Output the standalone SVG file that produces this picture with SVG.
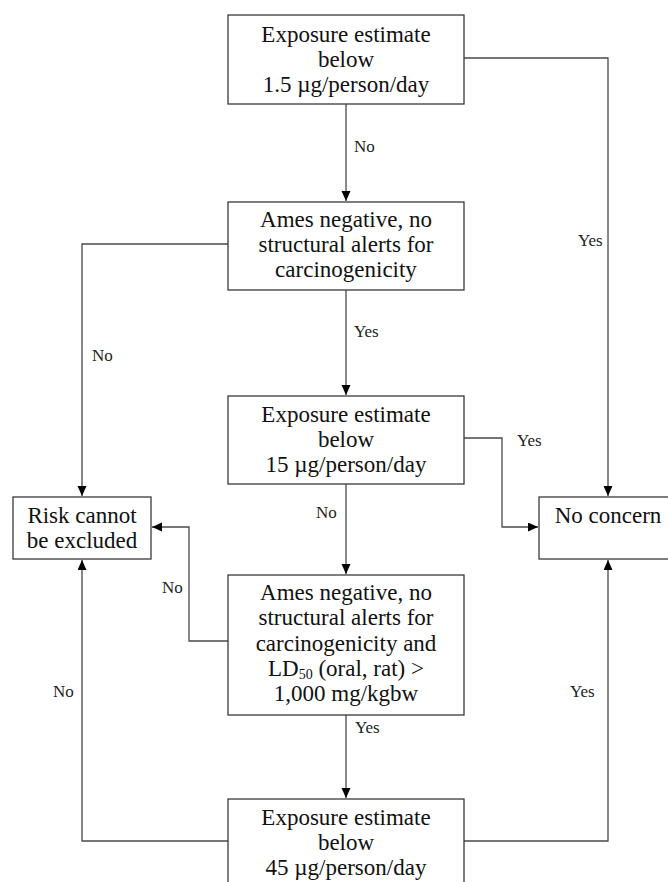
<svg xmlns="http://www.w3.org/2000/svg" width="668" height="882" viewBox="0 0 668 882">
  <style>
    .box { fill: #ffffff; stroke: #3a3a3a; stroke-width: 1.3; }
    .t { font-family: "Liberation Serif", "Times New Roman", serif; font-size: 23px; fill: #111; text-anchor: middle; }
    .lbl { font-family: "Liberation Serif", "Times New Roman", serif; font-size: 17px; fill: #222; }
    .c { fill: none; stroke: #4a4a4a; stroke-width: 1.3; }
  </style>
  <defs>
    <marker id="arr" markerUnits="userSpaceOnUse" markerWidth="11" markerHeight="10" refX="10" refY="4.5" orient="auto">
      <path d="M0,0 L10,4.5 L0,9 z" fill="#000"/>
    </marker>
  </defs>
  <rect width="668" height="882" fill="#ffffff"/>

  <g id="connectors">
    <path class="c" d="M346,104 V201" marker-end="url(#arr)"/>
    <path class="c" d="M464,58 H608 V496" marker-end="url(#arr)"/>
    <path class="c" d="M346,290 V395" marker-end="url(#arr)"/>
    <path class="c" d="M228,244 H82 V496" marker-end="url(#arr)"/>
    <path class="c" d="M464,438 H502 V527 H538" marker-end="url(#arr)"/>
    <path class="c" d="M346,484 V574" marker-end="url(#arr)"/>
    <path class="c" d="M228,641 H189 V527 H152" marker-end="url(#arr)"/>
    <path class="c" d="M346,715 V798" marker-end="url(#arr)"/>
    <path class="c" d="M228,841 H82 V560" marker-end="url(#arr)"/>
    <path class="c" d="M464,841 H608 V560" marker-end="url(#arr)"/>
    <text class="lbl" x="354" y="152">No</text>
    <text class="lbl" x="578" y="246">Yes</text>
    <text class="lbl" x="354" y="337">Yes</text>
    <text class="lbl" x="92" y="361">No</text>
    <text class="lbl" x="517" y="446">Yes</text>
    <text class="lbl" x="316" y="518">No</text>
    <text class="lbl" x="162" y="593">No</text>
    <text class="lbl" x="355" y="733">Yes</text>
    <text class="lbl" x="53" y="697">No</text>
    <text class="lbl" x="570" y="697">Yes</text>
  </g>

  <g id="node-exposure-1-5">
    <rect class="box" x="228" y="15" width="236" height="89"/>
    <text class="t" x="346" y="42">Exposure estimate</text>
    <text class="t" x="346" y="67">below</text>
    <text class="t" x="346" y="92">1.5 µg/person/day</text>
  </g>

  <g id="node-ames-1">
    <rect class="box" x="228" y="202" width="236" height="88"/>
    <text class="t" x="346" y="227">Ames negative, no</text>
    <text class="t" x="346" y="252">structural alerts for</text>
    <text class="t" x="346" y="277">carcinogenicity</text>
  </g>

  <g id="node-exposure-15">
    <rect class="box" x="228" y="396" width="236" height="88"/>
    <text class="t" x="346" y="422">Exposure estimate</text>
    <text class="t" x="346" y="447">below</text>
    <text class="t" x="346" y="472">15 µg/person/day</text>
  </g>

  <g id="node-risk">
    <rect class="box" x="13" y="497" width="138" height="62"/>
    <text class="t" x="82" y="523">Risk cannot</text>
    <text class="t" x="82" y="548">be excluded</text>
  </g>

  <g id="node-no-concern">
    <rect class="box" x="539" y="497" width="140" height="62"/>
    <text class="t" x="608" y="523">No concern</text>
  </g>

  <g id="node-ames-2">
    <rect class="box" x="228" y="575" width="236" height="140"/>
    <text class="t" x="346" y="600">Ames negative, no</text>
    <text class="t" x="346" y="625">structural alerts for</text>
    <text class="t" x="346" y="651">carcinogenicity and</text>
    <text class="t" x="346" y="676">LD<tspan font-size="14" dy="3">50</tspan><tspan dy="-3"> (oral, rat) &gt;</tspan></text>
    <text class="t" x="346" y="701">1,000 mg/kgbw</text>
  </g>

  <g id="node-exposure-45">
    <rect class="box" x="228" y="799" width="236" height="100"/>
    <text class="t" x="346" y="825">Exposure estimate</text>
    <text class="t" x="346" y="850">below</text>
    <text class="t" x="346" y="875">45 µg/person/day</text>
  </g>
</svg>
